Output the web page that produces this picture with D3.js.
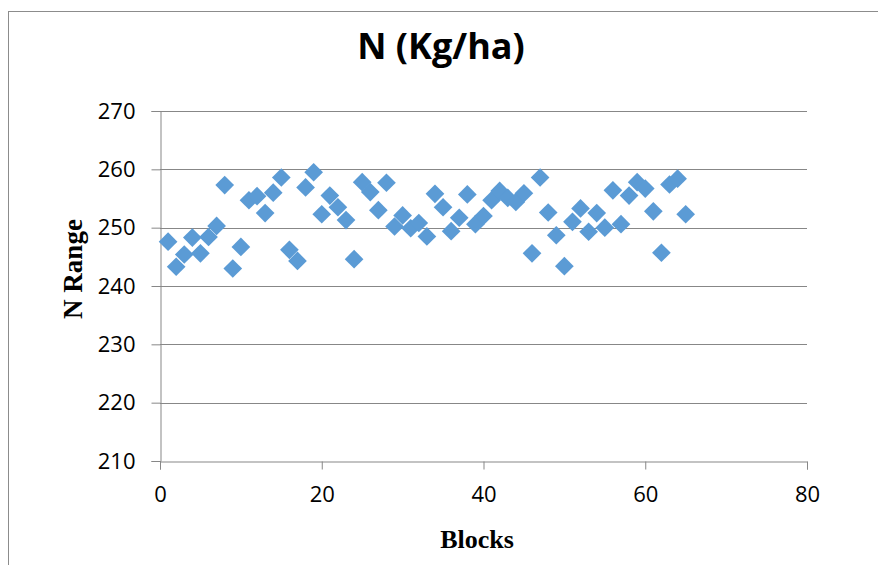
<!DOCTYPE html>
<html>
<head>
<meta charset="utf-8">
<script src="https://cdn.jsdelivr.net/npm/d3@7"></script>
<style>
  html, body { margin: 0; padding: 0; background: #fff; }
  svg { display: block; }
</style>
</head>
<body>
<svg id="chart" width="878" height="565"></svg>
<script>
// Block numbers and nitrogen values (kg/ha)
const blocks = d3.range(1, 66);
const nValues = [
  247.6, 243.3, 245.4, 248.3, 245.6, 248.4, 250.3, 257.3, 243.0, 246.7,
  254.7, 255.4, 252.5, 256.0, 258.6, 246.2, 244.3, 256.9, 259.5, 252.3,
  255.5, 253.5, 251.3, 244.6, 257.8, 256.1, 253.0, 257.7, 250.2, 252.1,
  249.9, 250.8, 248.5, 255.8, 253.5, 249.4, 251.7, 255.7, 250.6, 252.0,
  254.7, 256.3, 255.1, 254.4, 255.9, 245.6, 258.6, 252.6, 248.7, 243.4,
  251.0, 253.3, 249.3, 252.5, 250.0, 256.4, 250.6, 255.5, 257.8, 256.7,
  252.8, 245.7, 257.4, 258.4, 252.3
];
const xTicks = [0, 20, 40, 60, 80];
const yTicks = [210, 220, 230, 240, 250, 260, 270];

const titleText = "N (Kg/ha)";
const xTitle = "Blocks";
const yTitle = "N Range";

const svg = d3.select("#chart");
const W = 878, H = 565;
const plot = { left: 160, right: 807, top: 111, bottom: 461 };
const grey = "#878787";
const markerColor = "#5B9BD5";
const tickFont = "'Open Sans', Lato, sans-serif";
const serif = "'Liberation Serif', 'Times New Roman', serif";

// Chart frame
svg.append("rect")
  .attr("x", 8.5).attr("y", 11.5)
  .attr("width", W).attr("height", H)
  .attr("fill", "#fff").attr("stroke", "#8c8c8c").attr("stroke-width", 1);

const x = d3.scaleLinear().domain([0, 80]).range([plot.left, plot.right]);
const y = d3.scaleLinear().domain([210, 270]).range([plot.bottom, plot.top]);

// Horizontal gridlines
svg.append("g")
  .selectAll("line")
  .data(yTicks.filter(t => t !== 210))
  .join("line")
  .attr("x1", plot.left).attr("x2", plot.right)
  .attr("y1", d => Math.round(y(d)) + 0.5).attr("y2", d => Math.round(y(d)) + 0.5)
  .attr("stroke", grey).attr("stroke-width", 1);

// Y axis
const yAxis = svg.append("g")
  .attr("transform", `translate(${plot.left + 0.5},0)`)
  .call(d3.axisLeft(y).tickValues(yTicks).tickSize(9).tickPadding(16).tickFormat(d3.format("d")));
yAxis.select(".domain").attr("stroke", grey);
yAxis.selectAll(".tick line").attr("stroke", grey);
yAxis.selectAll(".tick text")
  .attr("fill", "#000")
  .style("font-family", tickFont)
  .style("font-size", "22px");

// X axis
const xAxis = svg.append("g")
  .attr("transform", `translate(0,${plot.bottom + 0.5})`)
  .call(d3.axisBottom(x).tickValues(xTicks).tickSize(8).tickPadding(17).tickFormat(d3.format("d")));
xAxis.select(".domain").attr("stroke", grey);
xAxis.selectAll(".tick line").attr("stroke", grey);
xAxis.selectAll(".tick text")
  .attr("fill", "#000")
  .style("font-family", tickFont)
  .style("font-size", "22px");

// Data markers (diamonds)
const diamond = d3.symbol().type(d3.symbolSquare).size(175);
svg.append("g")
  .selectAll("path")
  .data(blocks.map((b, i) => ({ b, v: nValues[i] })))
  .join("path")
  .attr("d", diamond)
  .attr("transform", d => `translate(${x(d.b)},${y(d.v)}) rotate(45)`)
  .attr("fill", markerColor);

// Titles
svg.append("text")
  .attr("x", 441).attr("y", 59)
  .attr("text-anchor", "middle")
  .style("font-family", "'Open Sans', sans-serif")
  .style("font-weight", "bold")
  .style("font-size", "36px")
  .text(titleText);

svg.append("text")
  .attr("x", 477).attr("y", 548)
  .attr("text-anchor", "middle")
  .style("font-family", serif)
  .style("font-weight", "bold")
  .style("font-size", "26px")
  .text(xTitle);

svg.append("text")
  .attr("transform", "translate(82,269) rotate(-90)")
  .attr("text-anchor", "middle")
  .style("font-family", serif)
  .style("font-weight", "bold")
  .style("font-size", "27px")
  .text(yTitle);
</script>
</body>
</html>
